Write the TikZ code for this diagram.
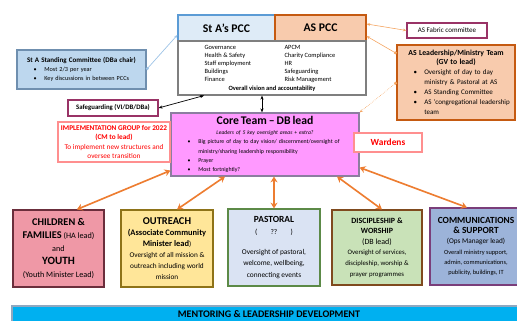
\documentclass[tikz,border=0pt]{standalone}
\usepackage{fontspec}
\setmainfont{Carlito}
\usepackage{xcolor}
\usetikzlibrary{positioning}
\usetikzlibrary{arrows.meta}
\definecolor{pccfill}{HTML}{DEEBF7}
\definecolor{pccbord}{HTML}{5B9BD5}
\definecolor{aspeach}{HTML}{F8CBAD}
\definecolor{asbord}{HTML}{C55A11}
\definecolor{greybord}{HTML}{7F7F7F}
\definecolor{stcfill}{HTML}{BDD7EE}
\definecolor{stcbord}{HTML}{6F8FAF}
\definecolor{sgpurple}{HTML}{993366}
\definecolor{corepink}{HTML}{FF99FF}
\definecolor{corebord}{HTML}{8C7DA0}
\definecolor{implbord}{HTML}{FF8F8F}
\definecolor{chfill}{HTML}{EF98A6}
\definecolor{chbord}{HTML}{6B2E3C}
\definecolor{orfill}{HTML}{FFE699}
\definecolor{orbord}{HTML}{8E7318}
\definecolor{pafill}{HTML}{DAE3F3}
\definecolor{pabord}{HTML}{5C8A47}
\definecolor{difill}{HTML}{C9E2B8}
\definecolor{dibord}{HTML}{7F4A1E}
\definecolor{cofill}{HTML}{9CB3D9}
\definecolor{cobord}{HTML}{7A3E7A}
\definecolor{mefill}{HTML}{00B0F0}
\definecolor{mebord}{HTML}{8FA8C0}
\definecolor{linkorange}{HTML}{ED7D31}
\definecolor{thinorange}{HTML}{F4A460}
\definecolor{linkblue}{HTML}{9DC3E6}
\newcommand{\fsz}[2]{\fontsize{#1}{#2}\selectfont}
\newlength{\bitemsep}
\setlength{\bitemsep}{3.2mm}
\newcommand{\bitem}[1]{\par\hangindent=\bitemsep\hangafter=1\noindent\makebox[\bitemsep][l]{\textbullet}#1}
\tikzstyle{box} = [draw, rectangle, line width=0.9pt, inner sep=2pt, align=center, text=black]
\tikzstyle{listbox} = [box, align=left]
\tikzstyle{orangelink} = [line width=1.4pt, draw=linkorange, {Stealth[length=5pt,width=6pt]}-{Stealth[length=5pt,width=6pt]}]
\tikzstyle{blacklink} = [line width=0.6pt, {Stealth[length=3.5pt]}-{Stealth[length=3.5pt]}]
\tikzstyle{thinlink} = [line width=0.5pt, draw=thinorange]

\begin{document}
\begin{tikzpicture}[x=0.3mm,y=-0.3mm]
\useasboundingbox (0,0) rectangle (517,321);
% PCC boxes
\node (stapcc) [box, fill=pccfill, draw=pccbord, minimum width=29.1mm, minimum height=7.8mm, font=\fsz{10}{12}\bfseries] at (226.5,28) {St A’s PCC};
\node (aspcc) [box, fill=aspeach, draw=asbord, minimum width=27.3mm, minimum height=7.8mm, font=\fsz{10}{12}\bfseries] at (320.5,28) {AS PCC};
\node (pccbody) [box, fill=white, draw=greybord, minimum width=56.4mm, minimum height=16.2mm, font=\fsz{5.5}{6.8}] at (272,68) {\begin{tabular}{@{}p{24mm}@{}p{16.5mm}@{}}
Governance & APCM\\
Health \& Safety & Charity Compliance\\
Staff employment & HR\\
Buildings & Safeguarding\\
Finance & Risk Management
\end{tabular}\\[1pt]
\textbf{Overall vision and accountability}};
\node (stacomm) [listbox, fill=stcfill, draw=stcbord, text width=37.3mm, minimum height=11.7mm, font=\fsz{5.3}{7.5}] at (81.5,69.5) {{\centering\fsz{6}{7.5}\bfseries St A Standing Committee (DBa chair)\par}
\leftskip=4.3mm
\bitem{Most 2/3 per year}
\bitem{Key discussions in between PCCs}\par};
\node (safeg) [box, fill=white, draw=sgpurple, minimum width=27mm, minimum height=4.8mm, font=\fsz{5.8}{7}\bfseries] at (113,108) {Safeguarding (VI/DB/DBa)};
\node (fabric) [box, fill=white, draw=sgpurple, minimum width=24mm, minimum height=4.5mm, font=\fsz{6}{7}] at (447,30.5) {AS Fabric committee};
\node (asleader) [listbox, fill=aspeach, draw=asbord, text width=34mm, minimum height=22.5mm, font=\fsz{6}{8.5}] at (456,82.5) {{\centering\fsz{6.6}{8}\bfseries AS Leadership/Ministry Team\\(GV to lead)\par}
\leftskip=4.3mm
\bitem{Oversight of day to day\newline ministry \& Pastoral at AS}
\bitem{AS Standing Committee}
\bitem{AS ‘congregational leadership\newline team}\par};
% core team
\node (core) [listbox, fill=corepink, draw=corebord, text width=55mm, minimum height=18.9mm, font=\fsz{5}{8}] at (265,144.5) {{\centering\fsz{10}{11}\bfseries Core Team – DB lead\par}
{\centering\fsz{4.8}{8.5}\itshape Leaders of 5 key oversight areas + extra?\par}
\leftskip=4.3mm
\bitem{Big picture of day to day vision/ discernment/oversight of\newline ministry/sharing leadership responsibility}
\bitem{Prayer}
\bitem{Most fortnightly?}\par};
\node (impl) [box, fill=white, draw=implbord, text=red, minimum width=33.6mm, minimum height=12mm, font=\fsz{6.2}{8.2}] at (114,142) {\textbf{IMPLEMENTATION GROUP for 2022}\\\textbf{(CM to lead)}\\To implement new structures and\\oversee transition};
\node (wardens) [box, fill=white, draw=implbord, text=red, minimum width=20.4mm, minimum height=5.7mm, font=\fsz{8}{9}\bfseries] at (388,142.5) {Wardens};
% oversight areas
\node (children) [box, fill=chfill, draw=chbord, minimum width=27.3mm, minimum height=23.1mm, font=\fsz{7}{11}] at (58.5,248.5) {{\fsz{8.8}{11}\bfseries CHILDREN \&}\\{\fsz{8.8}{11}\bfseries FAMILIES} (HA lead)\\and\\{\fsz{9.5}{11}\bfseries YOUTH}\\(Youth Minister Lead)};
\node (outreach) [box, fill=orfill, draw=orbord, minimum width=27.6mm, minimum height=23.1mm, font=\fsz{6.2}{9.3}] at (167,248.5) {{\fsz{8.9}{9.3}\bfseries OUTREACH}\\{\fsz{7.2}{9.3}\bfseries (Associate Community}\\{\fsz{7.2}{9.3}\bfseries Minister lead})\\Oversight of all mission \&\\outreach including world\\mission};
\node (pastoral) [box, fill=pafill, draw=pabord, minimum width=27.6mm, minimum height=23.1mm, font=\fsz{6.3}{10}] at (274,247.5) {{\fsz{8}{10}\bfseries PASTORAL}\\(\hspace{4mm}??\hspace{4mm})\\[7pt]Oversight of pastoral,\\welcome, wellbeing,\\connecting events};
\node (discip) [box, fill=difill, draw=dibord, minimum width=27mm, minimum height=22.5mm, font=\fsz{5.8}{9}] at (377,247.5) {{\fsz{6.8}{9}\bfseries DISCIPLESHIP \&}\\{\fsz{6.8}{9}\bfseries WORSHIP}\\{\fsz{6.8}{9}(DB lead)}\\Oversight of services,\\discipleship, worship \&\\prayer programmes};
\node (comms) [box, fill=cofill, draw=cobord, minimum width=27.6mm, minimum height=23.1mm, font=\fsz{5.4}{8.8}] at (476,246.5) {{\fsz{8}{10}\bfseries COMMUNICATIONS}\\{\fsz{8}{10}\bfseries \& SUPPORT}\\{\fsz{6.2}{8.8}(Ops Manager lead)}\\Overall ministry support,\\admin, communications,\\publicity, buildings, IT};
\node (mentor) [box, fill=mefill, draw=mebord, minimum width=154.2mm, minimum height=4.8mm, font=\fsz{8.6}{10}\bfseries] at (269,314) {MENTORING \& LEADERSHIP DEVELOPMENT};
% links
\draw[line width=0.6pt, draw=linkblue, {Square[length=2pt]}-{Stealth[length=3pt]}] (stacomm.east) -- (stapcc.188);
\draw[blacklink] ([xshift=8mm]pccbody.south west) -- (safeg.east);
\draw[blacklink] ([xshift=-3mm]pccbody.south) -- ([xshift=-3mm]pccbody.south |- core.north);
\draw[thinlink, {Stealth[length=3pt]}-{Stealth[length=3pt]}] (aspcc.5) -- (fabric.west);
\draw[thinlink, {Stealth[length=3pt]}-{Square[length=2pt]}] (aspcc.-10) -- (asleader.154);
\draw[thinlink, densely dotted, {Stealth[length=3pt]}-{Square[length=2pt]}] (core.north east) -- (asleader.west);
\draw[orangelink] ([yshift=1.8mm]core.south west) -- ([xshift=5.5mm]children.north);
\draw[orangelink] ([xshift=-12mm]core.south) -- ([xshift=3mm]outreach.north);
\draw[orangelink] (pastoral.north |- core.south) -- (pastoral.north);
\draw[orangelink] ([xshift=21.6mm]core.south) -- ([xshift=1.5mm]discip.north);
\draw[orangelink] ([yshift=2.7mm]core.south east) -- ([xshift=-2.7mm]comms.north);
\end{tikzpicture}
\end{document}
